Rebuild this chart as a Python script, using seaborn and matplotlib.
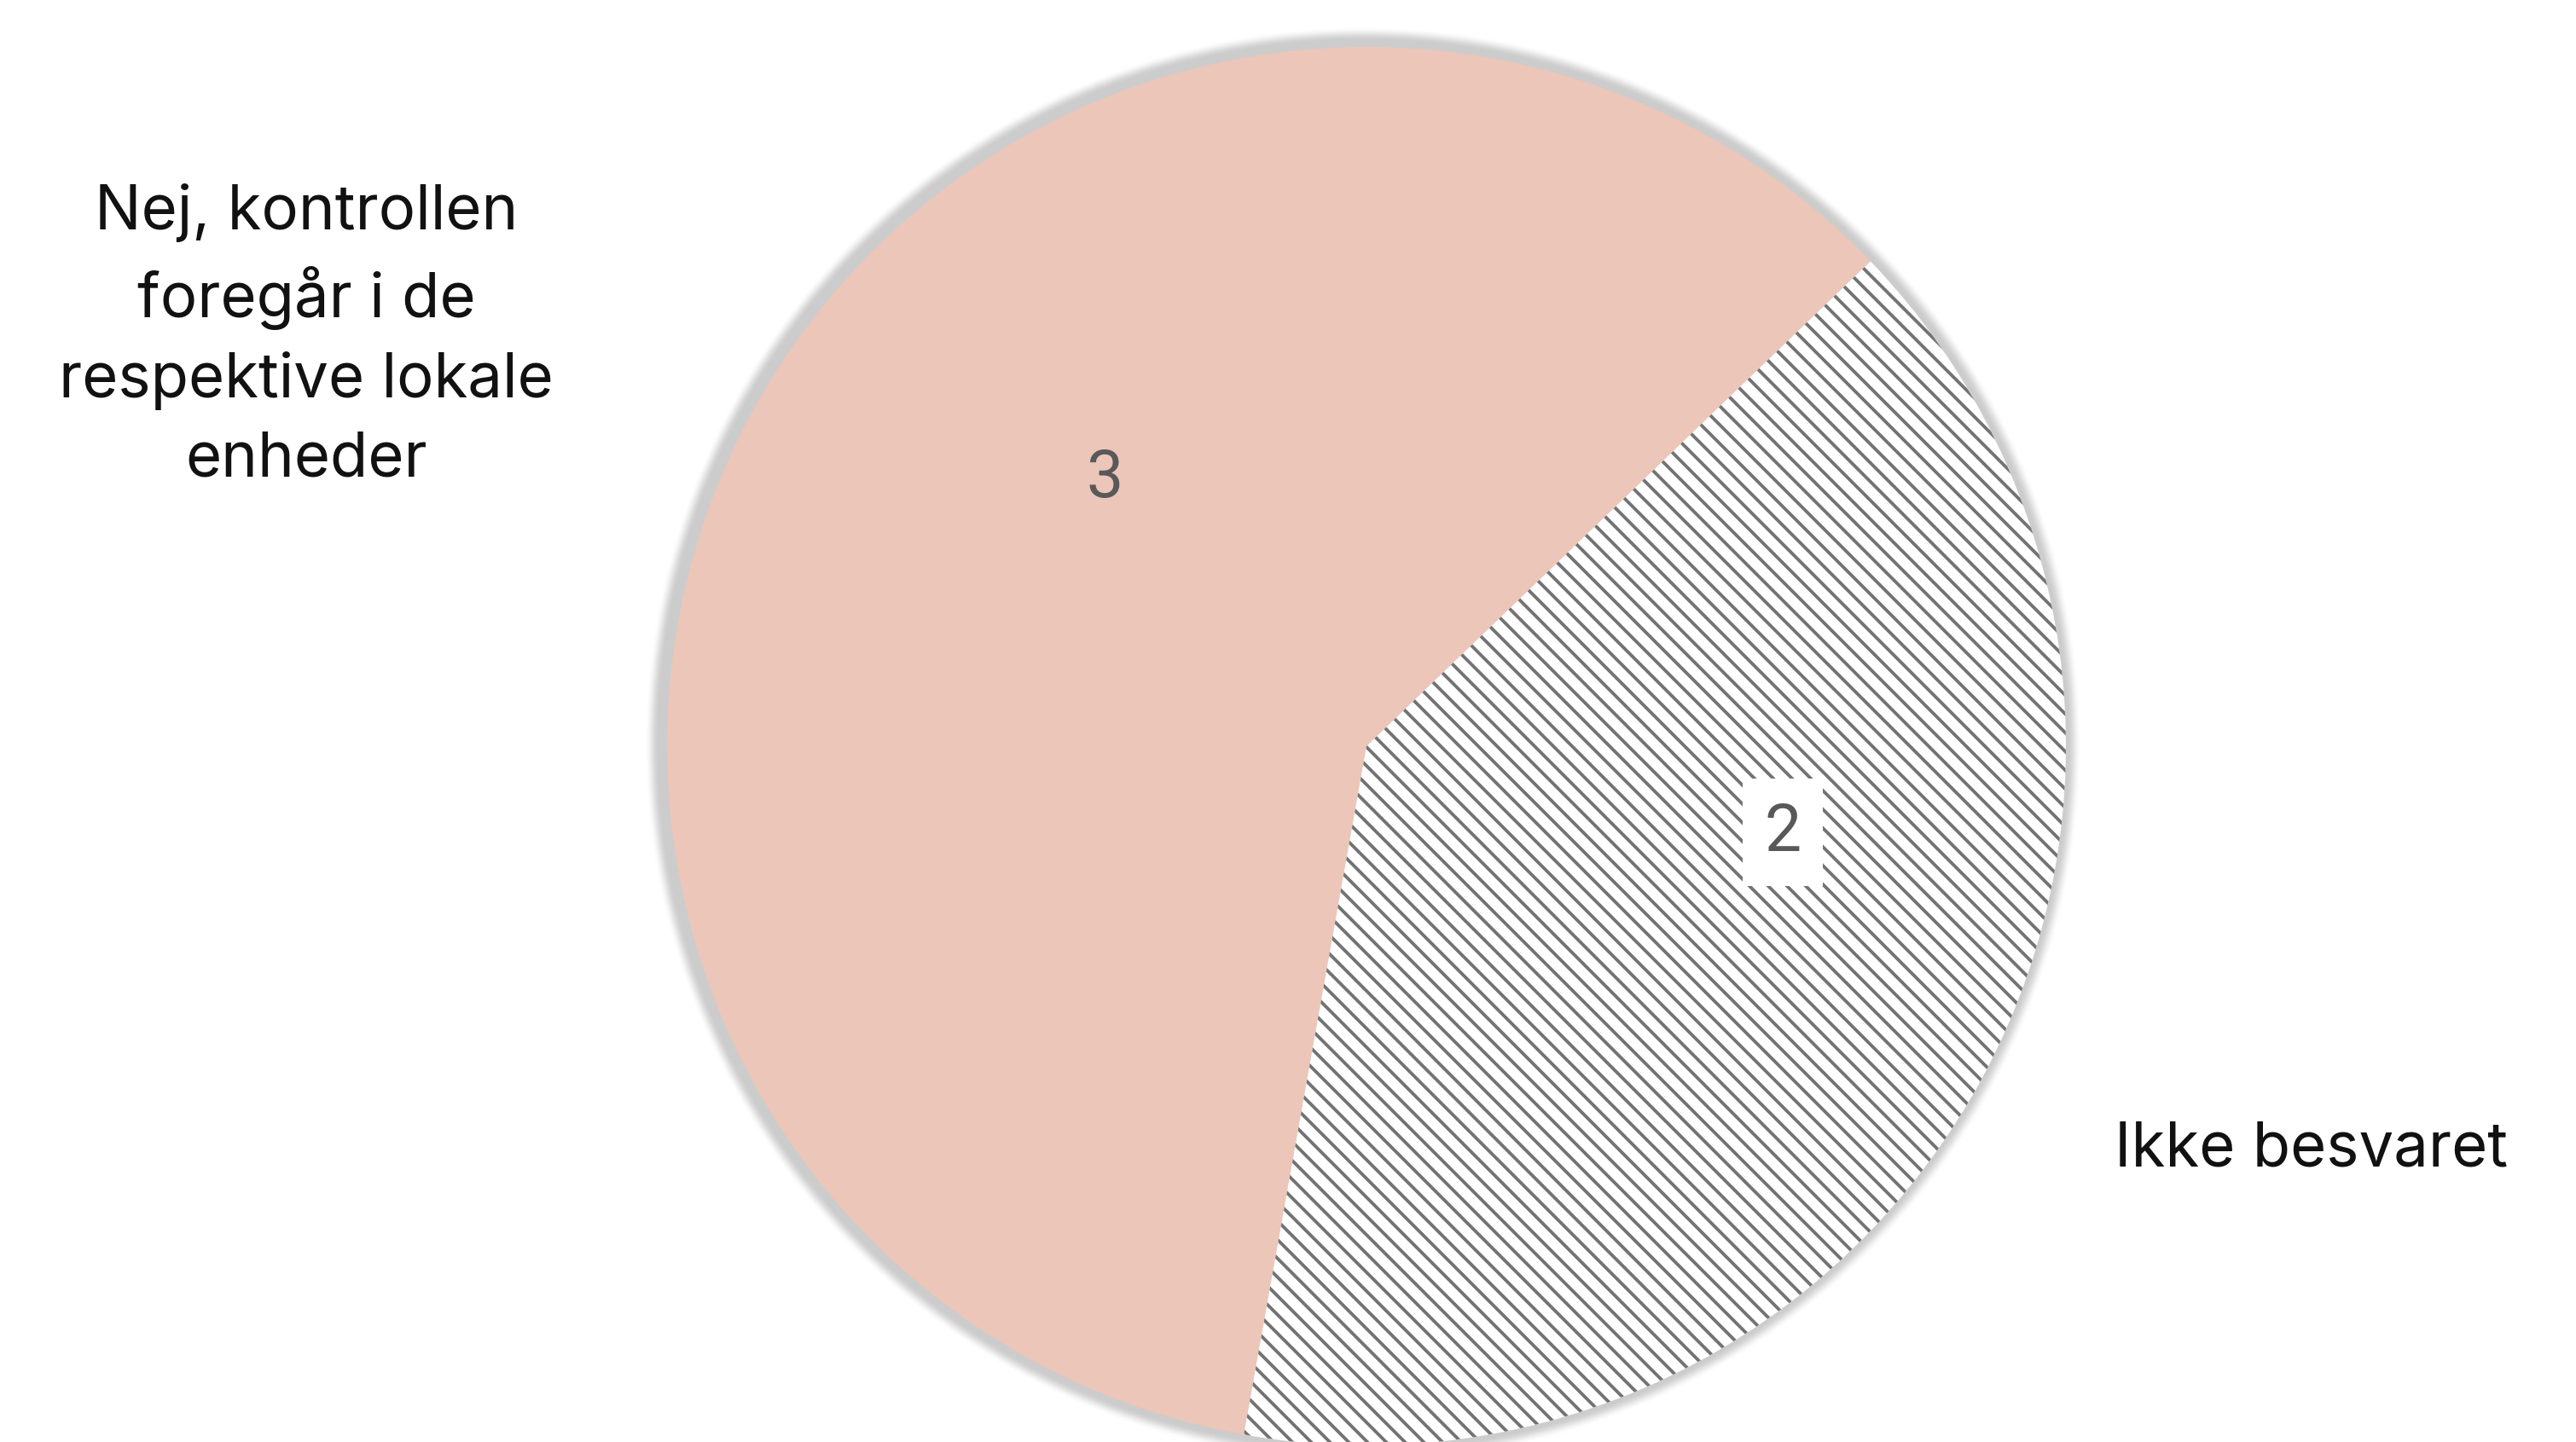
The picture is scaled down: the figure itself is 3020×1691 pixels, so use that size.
import numpy as np
import matplotlib
matplotlib.use("Agg")
import matplotlib.pyplot as plt
import seaborn as sns

# Survey answers
categories = ["Nej, kontrollen\nforegår i de\nrespektive lokale\nenheder", "Ikke besvaret"]
counts = [3, 2]

sns.set_theme(style="white")
plt.rcParams["font.family"] = ["Inter", "DejaVu Sans"]
plt.rcParams["hatch.linewidth"] = 2.1

DPI = 132
W, H = 3020, 1691
R_PX = 820            # pie radius in pixels
CX, CY = 1602, 875    # pie centre in pixels (y from top)

fig = plt.figure(figsize=(W / DPI, H / DPI), dpi=DPI)
fig.patch.set_facecolor("white")
ax = fig.add_axes([0, 0, 1, 1])
x0, x1 = -CX / R_PX, (W - CX) / R_PX
y0, y1 = -(H - CY) / R_PX, CY / R_PX

# soft drop shadow behind the pie
gx = np.linspace(x0, x1, W)
gy = np.linspace(y1, y0, H)
XX, YY = np.meshgrid(gx, gy)
sx, sy = -4 / R_PX, 2 / R_PX
dist = (np.hypot(XX - sx, YY - sy) - 1 - 6 / R_PX) * R_PX
t = np.clip(dist / 16, 0, 1)
alpha = 1 - (3 * t ** 2 - 2 * t ** 3)
shade = np.zeros((H, W, 4))
shade[..., :3] = 0.80
shade[..., 3] = alpha
ax.imshow(shade, extent=(x0, x1, y0, y1), origin="upper", zorder=0,
          interpolation="bilinear")

wedges, _ = ax.pie(counts, colors=["#ECC6B9", "white"], startangle=43.9,
                   counterclock=True, radius=1,
                   wedgeprops=dict(linewidth=0))
for w in wedges:
    w.set_zorder(1)
wedges[1].set_hatch("\\\\")
wedges[1].set_edgecolor("#737373")
wedges[1].set_linewidth(0)

ax.set_xlim(x0, x1)
ax.set_ylim(y0, y1)
ax.set_aspect("auto")
ax.axis("off")


def px(xp, yp):
    return (xp - CX) / R_PX, (CY - yp) / R_PX


# value labels
vx, vy = px(1295, 561)
ax.text(vx, vy, str(counts[0]), ha="center", va="center", fontsize=42,
        color="#595959", family=["Roboto", "DejaVu Sans"], zorder=3)
vx, vy = px(2090, 976)
ax.text(vx, vy, str(counts[1]), ha="center", va="center", fontsize=42,
        color="#595959", family=["Roboto", "DejaVu Sans"], zorder=3,
        bbox=dict(boxstyle="square,pad=0.33", fc="white", ec="none"))

# category labels
lx, ly = px(359, 558)
ax.text(lx, ly, categories[0], ha="center", va="baseline", multialignment="center",
        fontsize=39.5, color="#111111", linespacing=1.46, zorder=3)
lx, ly = px(2479, 1367)
ax.text(lx, ly, categories[1], ha="left", va="baseline",
        fontsize=39.5, color="#111111", zorder=3)

fig.savefig("out.png", dpi=DPI, facecolor="white")
